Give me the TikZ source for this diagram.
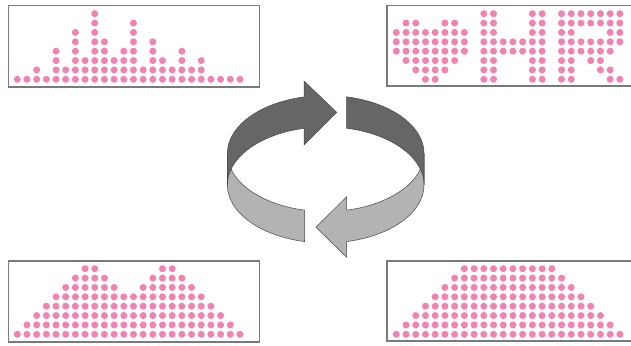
\documentclass[tikz,border=0pt]{standalone}
\usepackage{tikz}
\definecolor{dotpink}{RGB}{242,130,178}
\definecolor{boxgray}{RGB}{122,122,122}
\definecolor{darkband}{RGB}{102,102,102}
\definecolor{lightband}{RGB}{179,179,179}
\definecolor{bandline}{RGB}{70,70,70}
\tikzset{
  panel/.style={draw=boxgray, line width=1.6},
  dot/.style={fill=dotpink},
  darkpiece/.style={fill=darkband, draw=bandline, line width=0.5, line join=miter},
  lightpiece/.style={fill=lightband, draw=bandline, line width=0.5, line join=miter}
}
\newcommand{\pdot}[2]{\fill[dot] ({#1},{#2}) circle (3.5);}
\begin{document}
\begin{tikzpicture}[x=1pt,y=-1pt]
\useasboundingbox[fill=white] (0,0) rectangle (631,345);
% ---------- panels ----------
\draw[panel] (8.3,5.7) rectangle (259.3,86.7);
\draw[panel] (631,5.7) -- (387,5.7) -- (387,86) -- (631,86);
\draw[panel] (8.3,260.7) rectangle (259.3,341.7);
\draw[panel] (631,260.7) -- (387,260.7) -- (387,341) -- (631,341);
% ---------- top-left: histogram ----------
\foreach \h [count=\i from 0] in {1,1,2,1,4,2,6,3,8,5,3,4,7,2,5,3,2,4,2,3,1,1,1,1}{
  \foreach \k in {1,...,\h}{
    \pdot{17.3+9.68*\i}{79.3-9.37*(\k-1)}
  }
}
% ---------- top-right: heart H R ----------
\foreach \j/\cols in {
  0/{9,10,14,15,17,18,19,20,21,22,23},
  1/{1,2,5,6,9,10,14,15,17,18,19,20,21,22,23},
  2/{0,1,2,3,4,5,6,7,9,10,14,15,17,18,22,23},
  3/{0,1,2,3,4,5,6,7,9,10,11,12,13,14,15,17,18,19,20,21,22,23},
  4/{0,1,2,3,4,5,6,7,9,10,11,12,13,14,15,17,18,19,20,21,22},
  5/{1,2,3,4,5,6,9,10,14,15,17,18,20,21},
  6/{2,3,4,5,9,10,14,15,17,18,21,22},
  7/{3,4,9,10,14,15,17,18,22,23}}{
  \foreach \c in \cols{
    \pdot{396.3+9.72*\c}{13.7+9.37*\j}
  }
}
% ---------- bottom-left: two peaks ----------
\foreach \c in {7,8,15,16}{\pdot{17.3+9.68*\c}{268.7}}
\foreach \c in {6,...,9,14,15,16,17}{\pdot{17.3+9.68*\c}{268.7+9.37}}
\foreach \c in {5,...,10,13,14,15,16,17,18}{\pdot{17.3+9.68*\c}{268.7+2*9.37}}
\foreach \j in {3,...,7}{
  \pgfmathtruncatemacro{\lo}{7-\j}
  \pgfmathtruncatemacro{\hi}{16+\j}
  \foreach \c in {\lo,...,\hi}{\pdot{17.3+9.68*\c}{268.7+9.37*\j}}
}
% ---------- bottom-right: trapezoid ----------
\foreach \j in {0,...,7}{
  \pgfmathtruncatemacro{\lo}{7-\j}
  \pgfmathtruncatemacro{\hi}{16+\j}
  \foreach \c in {\lo,...,\hi}{\pdot{396.3+9.72*\c}{268.7+9.37*\j}}
}
% ---------- circular arrows ----------
\def\cx{325.7}\def\ea{98.3}\def\eb{58}\def\cyT{153.5}\def\cyB{184.9}
% light left piece
\draw[lightpiece]
  plot[domain=180:102.33,samples=40,smooth] ({\cx+\ea*cos(\x)},{\cyT+\eb*sin(\x)})
  -- plot[domain=102.33:180,samples=40,smooth] ({\cx+\ea*cos(\x)},{\cyB+\eb*sin(\x)})
  -- cycle;
% light right piece with arrowhead
\draw[lightpiece]
  ({\cx+\ea*cos(77.67)},{\cyT+\eb*sin(77.67)})
  -- (346.7,196.7) -- (316,227.3) -- (346.7,257.3)
  -- plot[domain=77.67:0,samples=40,smooth] ({\cx+\ea*cos(\x)},{\cyB+\eb*sin(\x)})
  -- plot[domain=0:77.67,samples=40,smooth] ({\cx+\ea*cos(\x)},{\cyT+\eb*sin(\x)})
  -- cycle;
% dark left piece with arrowhead
\draw[darkpiece]
  ({\cx+\ea*cos(257.25)},{\cyT+\eb*sin(257.25)})
  -- (304,81) -- (336.7,112.3) -- (304,145)
  -- plot[domain=257.25:180,samples=40,smooth] ({\cx+\ea*cos(\x)},{\cyB+\eb*sin(\x)})
  -- plot[domain=180:257.25,samples=40,smooth] ({\cx+\ea*cos(\x)},{\cyT+\eb*sin(\x)})
  -- cycle;
% dark right piece
\draw[darkpiece]
  plot[domain=282.33:360,samples=40,smooth] ({\cx+\ea*cos(\x)},{\cyT+\eb*sin(\x)})
  -- plot[domain=360:282.33,samples=40,smooth] ({\cx+\ea*cos(\x)},{\cyB+\eb*sin(\x)})
  -- cycle;
\end{tikzpicture}
\end{document}
